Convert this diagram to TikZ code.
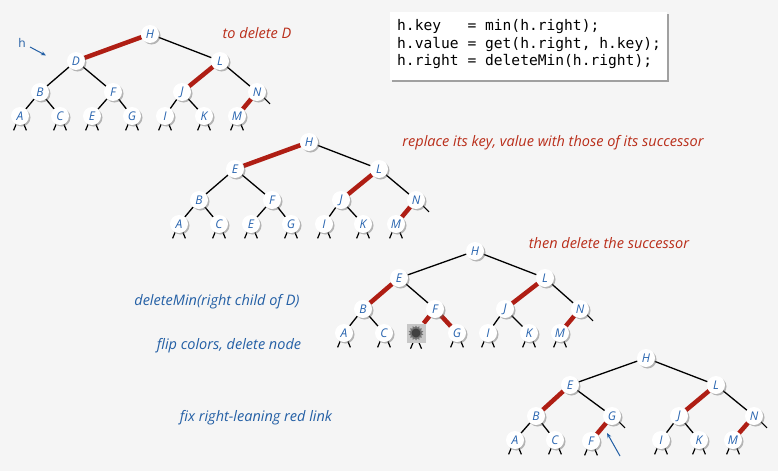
\documentclass[tikz,border=0pt]{standalone}
\usepackage{fontspec}
\setsansfont{Open Sans}
\setmonofont{DejaVu Sans Mono}
\usetikzlibrary{shadows,shapes.geometric,arrows.meta}
\pgfdeclarelayer{bg}
\pgfdeclarelayer{edges}
\pgfsetlayers{bg,edges,main}
\definecolor{bgc}{RGB}{245,245,245}
\definecolor{redlink}{RGB}{175,30,20}
\definecolor{redtext}{RGB}{185,45,25}
\definecolor{bluetext}{RGB}{35,95,165}
\definecolor{nodeblue}{RGB}{40,100,175}
\tikzset{
  nd/.style={circle,fill=white,minimum size=18pt,inner sep=0pt,
    font=\sffamily\itshape\fontsize{12}{12}\selectfont,text=nodeblue,
    drop shadow={shadow xshift=1.5pt,shadow yshift=-1.5pt,opacity=0.45,fill=black!60}},
  blk/.style={draw=black,line width=1.3pt},
  rd/.style={draw=redlink,line width=4.5pt},
  stub/.style={draw=black,line width=1.2pt},
  lblr/.style={font=\sffamily\itshape\fontsize{14.5}{14.5}\selectfont,text=redtext},
  lblb/.style={font=\sffamily\itshape\fontsize{14.5}{14.5}\selectfont,text=bluetext},
  ptr/.style={draw=bluetext,line width=1pt,-{Stealth[length=5pt,width=4pt]}}
}
\newcommand{\twostubs}[1]{%
  \draw[stub] (#1.-115) -- ++(-2.5,6);
  \draw[stub] (#1.-65) -- ++(2.5,6);}
\newcommand{\rstub}[1]{%
  \draw[stub] (#1.-40) -- ++(6,6);}
\begin{document}
\begin{tikzpicture}[x=1pt,y=-1pt]
\begin{pgfonlayer}{bg}
\fill[bgc] (0,0) rectangle (778,471);
\end{pgfonlayer}
\useasboundingbox (0,0) rectangle (778,471);

% ---------- code box ----------
\node[draw=none,fill=white,minimum width=277pt,minimum height=68pt,inner sep=0pt,
  drop shadow={shadow xshift=2pt,shadow yshift=-2pt,opacity=0.5,fill=black!70}]
  (codebox) at (528.5,46) {};
\node[anchor=west,inner sep=0pt,font=\ttfamily\fontsize{14.6}{17.5}\selectfont,align=left]
  (code) at (397,44.5) {h.key\ \ \ = min(h.right);\\h.value = get(h.right, h.key);\\h.right = deleteMin(h.right);};

% ---------- tree 1 ----------
\node[nd] (aH) at (150,34) {H};
\node[nd] (aD) at (76,61) {D};
\node[nd] (aL) at (220,61) {L};
\node[nd] (aB) at (40,92) {B};
\node[nd] (aF) at (113,92) {F};
\node[nd] (aJ) at (182,92) {J};
\node[nd] (aN) at (257,92) {N};
\node[nd] (aA) at (20,116) {A};
\node[nd] (aC) at (60,116) {C};
\node[nd] (aE) at (92,116) {E};
\node[nd] (aG) at (132,116) {G};
\node[nd] (aI) at (165,116) {I};
\node[nd] (aK) at (204,116) {K};
\node[nd] (aM) at (237,116) {M};
\begin{pgfonlayer}{edges}
\draw[rd] (aH) -- (aD);
\draw[blk] (aH) -- (aL);
\draw[blk] (aD) -- (aB);
\draw[blk] (aD) -- (aF);
\draw[rd] (aL) -- (aJ);
\draw[blk] (aL) -- (aN);
\draw[blk] (aB) -- (aA);
\draw[blk] (aB) -- (aC);
\draw[blk] (aF) -- (aE);
\draw[blk] (aF) -- (aG);
\draw[blk] (aJ) -- (aI);
\draw[blk] (aJ) -- (aK);
\draw[rd] (aN) -- (aM);
\twostubs{aA}\twostubs{aC}\twostubs{aE}\twostubs{aG}\twostubs{aI}\twostubs{aK}\twostubs{aM}
\rstub{aN}
\end{pgfonlayer}
\node[inner sep=0pt,font=\sffamily\fontsize{12}{12}\selectfont,text=bluetext] (hlbl) at (22,43) {h};
\coordinate (hstart) at (30,47);
\coordinate (hend) at (46,55.5);
\draw[ptr] (hstart) -- (hend);
\node[lblr] (l1) at (257,33) {to delete D};

% ---------- tree 2 ----------
\begin{scope}[shift={(159,108)}]
\node[nd] (bH) at (150,34) {H};
\node[nd] (bE0) at (76,61) {E};
\node[nd] (bL) at (220,61) {L};
\node[nd] (bB) at (40,92) {B};
\node[nd] (bF) at (113,92) {F};
\node[nd] (bJ) at (182,92) {J};
\node[nd] (bN) at (257,92) {N};
\node[nd] (bA) at (20,116) {A};
\node[nd] (bC) at (60,116) {C};
\node[nd] (bE) at (92,116) {E};
\node[nd] (bG) at (132,116) {G};
\node[nd] (bI) at (165,116) {I};
\node[nd] (bK) at (204,116) {K};
\node[nd] (bM) at (237,116) {M};
\end{scope}
\begin{pgfonlayer}{edges}
\draw[rd] (bH) -- (bE0);
\draw[blk] (bH) -- (bL);
\draw[blk] (bE0) -- (bB);
\draw[blk] (bE0) -- (bF);
\draw[rd] (bL) -- (bJ);
\draw[blk] (bL) -- (bN);
\draw[blk] (bB) -- (bA);
\draw[blk] (bB) -- (bC);
\draw[blk] (bF) -- (bE);
\draw[blk] (bF) -- (bG);
\draw[blk] (bJ) -- (bI);
\draw[blk] (bJ) -- (bK);
\draw[rd] (bN) -- (bM);
\twostubs{bA}\twostubs{bC}\twostubs{bE}\twostubs{bG}\twostubs{bI}\twostubs{bK}\twostubs{bM}
\rstub{bN}
\end{pgfonlayer}
\node[lblr] (l2) at (553,143) {replace its key, value with those of its successor};

% ---------- tree 3 ----------
\begin{scope}[shift={(325,217)}]
\node[nd] (cH) at (150,34) {H};
\node[nd] (cE) at (74,61) {E};
\node[nd] (cL) at (220,61) {L};
\node[nd] (cB) at (38,92) {B};
\node[nd] (cF) at (110,92) {F};
\node[nd] (cJ) at (180,92) {J};
\node[nd] (cN) at (255,92) {N};
\node[nd] (cA) at (19,116) {A};
\node[nd] (cC) at (59,116) {C};
\coordinate (cX) at (91,116);
\node[nd] (cG) at (132,116) {G};
\node[nd] (cI) at (163,116) {I};
\node[nd] (cK) at (204,116) {K};
\node[nd] (cM) at (235,116) {M};
\end{scope}
\node[fill=black!22,minimum size=19pt,inner sep=0pt] (cDel) at (cX) {};
\node[star,star points=14,star point ratio=1.35,fill=black!55,minimum size=15pt,inner sep=0pt] (cStar) at (cX) {};
\node[circle,fill=black!75,minimum size=9pt,inner sep=0pt] (cCore) at (cX) {};
\begin{pgfonlayer}{edges}
\draw[blk] (cH) -- (cE);
\draw[blk] (cH) -- (cL);
\draw[rd] (cE) -- (cB);
\draw[blk] (cE) -- (cF);
\draw[rd] (cL) -- (cJ);
\draw[blk] (cL) -- (cN);
\draw[blk] (cB) -- (cA);
\draw[blk] (cB) -- (cC);
\draw[rd] (cF) -- (cDel);
\draw[rd] (cF) -- (cG);
\draw[blk] (cJ) -- (cI);
\draw[blk] (cJ) -- (cK);
\draw[rd] (cN) -- (cM);
\twostubs{cA}\twostubs{cC}\twostubs{cG}\twostubs{cI}\twostubs{cK}\twostubs{cM}
\draw[stub] (cDel.south) ++(-3,0) -- ++(-2.5,6);
\draw[stub] (cDel.south) ++(3,0) -- ++(2.5,6);
\rstub{cN}
\end{pgfonlayer}
\node[lblr] (l3) at (609,243) {then delete the successor};
\node[lblb] (l4) at (217,302) {deleteMin(right child of D)};
\node[lblb] (l5) at (229,346) {flip colors, delete node};

% ---------- tree 4 ----------
\begin{scope}[shift={(496,324)}]
\node[nd] (dH) at (150,34) {H};
\node[nd] (dE) at (74,61) {E};
\node[nd] (dL) at (220,61) {L};
\node[nd] (dB) at (40,92) {B};
\node[nd] (dG) at (116,92) {G};
\node[nd] (dJ) at (183,92) {J};
\node[nd] (dN) at (258,92) {N};
\node[nd] (dA) at (19,116) {A};
\node[nd] (dC) at (59,116) {C};
\node[nd] (dF) at (95,117) {F};
\node[nd] (dI) at (165,116) {I};
\node[nd] (dK) at (203,116) {K};
\node[nd] (dM) at (237,116) {M};
\end{scope}
\begin{pgfonlayer}{edges}
\draw[blk] (dH) -- (dE);
\draw[blk] (dH) -- (dL);
\draw[rd] (dE) -- (dB);
\draw[blk] (dE) -- (dG);
\draw[rd] (dL) -- (dJ);
\draw[blk] (dL) -- (dN);
\draw[blk] (dB) -- (dA);
\draw[blk] (dB) -- (dC);
\draw[rd] (dG) -- (dF);
\draw[blk] (dJ) -- (dI);
\draw[blk] (dJ) -- (dK);
\draw[rd] (dN) -- (dM);
\twostubs{dA}\twostubs{dC}\twostubs{dF}\twostubs{dI}\twostubs{dK}\twostubs{dM}
\rstub{dG}\rstub{dN}
\end{pgfonlayer}
\coordinate (arrS) at (620,456);
\coordinate (arrE) at (607,433);
\draw[ptr] (arrS) -- (arrE);
\node[lblb] (l6) at (256,418) {fix right-leaning red link};
\end{tikzpicture}
\end{document}
